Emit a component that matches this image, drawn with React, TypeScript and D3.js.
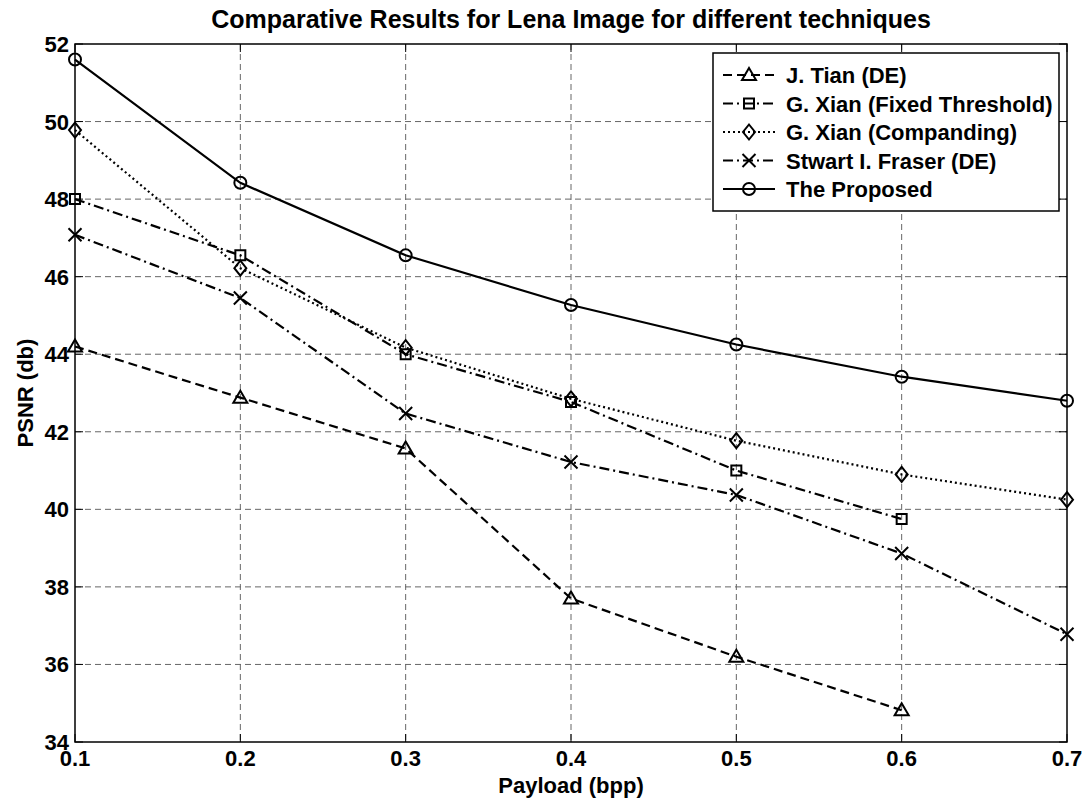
import React from 'react';
import * as d3 from 'd3';

// Payload values (bpp)
const payload = [0.1, 0.2, 0.3, 0.4, 0.5, 0.6, 0.7];

// PSNR (db) per technique
const tianDE = [44.2, 42.88, 41.57, 37.7, 36.2, 34.82];
const xianFixed = [48.0, 46.55, 44.0, 42.77, 41.0, 39.75];
const xianCompanding = [49.78, 46.22, 44.17, 42.85, 41.77, 40.9, 40.25];
const fraserDE = [47.08, 45.45, 42.47, 41.22, 40.37, 38.86, 36.78];
const proposed = [51.6, 48.42, 46.55, 45.27, 44.25, 43.42, 42.8];

const xTicks = [0.1, 0.2, 0.3, 0.4, 0.5, 0.6, 0.7];
const yTicks = [34, 36, 38, 40, 42, 44, 46, 48, 50, 52];

type Marker = 'triangle' | 'square' | 'diamond' | 'x' | 'circle';

interface Series {
  name: string;
  values: number[];
  dash: string;
  marker: Marker;
}

const series: Series[] = [
  { name: 'J. Tian (DE)', values: tianDE, dash: '9,5', marker: 'triangle' },
  { name: 'G. Xian (Fixed Threshold)', values: xianFixed, dash: '10,4,2,4', marker: 'square' },
  { name: 'G. Xian (Companding)', values: xianCompanding, dash: '2,3', marker: 'diamond' },
  { name: 'Stwart I. Fraser (DE)', values: fraserDE, dash: '10,4,2,4', marker: 'x' },
  { name: 'The Proposed', values: proposed, dash: '', marker: 'circle' },
];

const markerPath = (m: Marker) => {
  switch (m) {
    case 'triangle':
      return 'M0,-7L7,5L-7,5Z';
    case 'square':
      return 'M-5,-5H5V5H-5Z';
    case 'diamond':
      return 'M0,-7.5L6,0L0,7.5L-6,0Z';
    case 'x':
      return 'M-6.5,-6.5L6.5,6.5M-6.5,6.5L6.5,-6.5';
    default:
      return 'M6,0A6,6 0 1,1 -6,0A6,6 0 1,1 6,0Z';
  }
};

const FONT = '"Liberation Sans", Arial, sans-serif';

const App = () => {
  const width = 1086;
  const height = 805;
  const left = 75;
  const right = 1067;
  const top = 44;
  const bottom = 742;

  const x = d3.scaleLinear().domain([0.1, 0.7]).range([left, right]);
  const y = d3.scaleLinear().domain([34, 52]).range([bottom, top]);

  const line = d3
    .line<number>()
    .x((_, i) => x(payload[i]))
    .y(d => y(d));

  const tickLen = 8;
  const legend = { x: 713, y: 53, w: 346, h: 158 };

  return (
    <svg
      width={width}
      height={height}
      style={{ position: 'absolute', left: 0, top: 0, background: '#fff' }}
      fontFamily={FONT}
    >
      {/* grid */}
      <g stroke="#666" strokeWidth={1} strokeDasharray="6,4">
        {xTicks.slice(1, -1).map(t => (
          <line key={'gx' + t} x1={x(t)} x2={x(t)} y1={top} y2={bottom} />
        ))}
        {yTicks.slice(1, -1).map(t => (
          <line key={'gy' + t} x1={left} x2={right} y1={y(t)} y2={y(t)} />
        ))}
      </g>

      {/* ticks on all four sides */}
      <g stroke="#000" strokeWidth={1}>
        {xTicks.map(t => (
          <g key={'tx' + t}>
            <line x1={x(t)} x2={x(t)} y1={bottom} y2={bottom - tickLen} />
            <line x1={x(t)} x2={x(t)} y1={top} y2={top + tickLen} />
          </g>
        ))}
        {yTicks.map(t => (
          <g key={'ty' + t}>
            <line x1={left} x2={left + tickLen} y1={y(t)} y2={y(t)} />
            <line x1={right} x2={right - tickLen} y1={y(t)} y2={y(t)} />
          </g>
        ))}
      </g>

      {/* series */}
      {series.map(s => (
        <g key={s.name}>
          <path
            d={line(s.values) || ''}
            fill="none"
            stroke="#000"
            strokeWidth={2.2}
            strokeDasharray={s.dash || undefined}
          />
          {s.values.map((v, i) => (
            <path
              key={i}
              d={markerPath(s.marker)}
              transform={`translate(${x(payload[i])},${y(v)})`}
              fill="none"
              stroke="#000"
              strokeWidth={2}
            />
          ))}
        </g>
      ))}

      {/* axes box */}
      <rect
        x={left}
        y={top}
        width={right - left}
        height={bottom - top}
        fill="none"
        stroke="#000"
        strokeWidth={1.5}
      />

      {/* tick labels */}
      <g fontSize={22} fontWeight="bold" fill="#000">
        {xTicks.map(t => (
          <text key={'lx' + t} x={x(t)} y={bottom + 24} textAnchor="middle">
            {t.toFixed(1)}
          </text>
        ))}
        {yTicks.map(t => (
          <text key={'ly' + t} x={left - 6} y={y(t) + 8} textAnchor="end">
            {t}
          </text>
        ))}
      </g>

      {/* labels */}
      <text
        x={(left + right) / 2}
        y={28}
        textAnchor="middle"
        fontSize={25}
        fontWeight="bold"
      >
        Comparative Results for Lena Image for different techniques
      </text>
      <text
        x={(left + right) / 2}
        y={793}
        textAnchor="middle"
        fontSize={22}
        fontWeight="bold"
      >
        Payload (bpp)
      </text>
      <text
        transform={`translate(33,${(top + bottom) / 2}) rotate(-90)`}
        textAnchor="middle"
        fontSize={22}
        fontWeight="bold"
      >
        PSNR (db)
      </text>

      {/* legend */}
      <g>
        <rect
          x={legend.x}
          y={legend.y}
          width={legend.w}
          height={legend.h}
          fill="#fff"
          stroke="#000"
          strokeWidth={1.5}
        />
        {series.map((s, i) => {
          const ly = legend.y + 22 + i * 28.5;
          return (
            <g key={'lg' + s.name}>
              <line
                x1={723}
                x2={775}
                y1={ly}
                y2={ly}
                stroke="#000"
                strokeWidth={2.2}
                strokeDasharray={s.dash || undefined}
              />
              <path
                d={markerPath(s.marker)}
                transform={`translate(749,${ly})`}
                fill="none"
                stroke="#000"
                strokeWidth={2}
              />
              <text x={786} y={ly + 8} fontSize={22} fontWeight="bold">
                {s.name}
              </text>
            </g>
          );
        })}
      </g>
    </svg>
  );
};

export default App;
